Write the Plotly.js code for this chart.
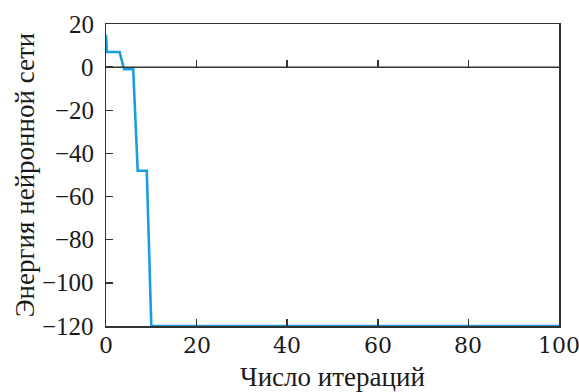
<!DOCTYPE html>
<html><head><meta charset="utf-8">
<script src="https://cdn.plot.ly/plotly-3.0.1.min.js"></script>
<style>body{margin:0;background:#fff}#c{width:579px;height:392px}</style>
</head><body><div id="c"></div>
<script>
const iterations = [0, 0.2, 3, 4, 6, 7, 9, 10, 100];
const energy = [15, 7, 7, -1, -1, -48, -48, -120, -120];
const xTicks = [0, 20, 40, 60, 80, 100];
const yTicks = [20, 0, -20, -40, -60, -80, -100, -120];
const xTitle = 'Число итераций';
const yTitle = 'Энергия нейронной сети';

const data = [{
  x: iterations, y: energy, type: 'scatter', mode: 'lines',
  line: {color: '#1a9ee0', width: 2.6}, xaxis: 'x', yaxis: 'y', showlegend: false
}, {
  x: [0, 100], y: [0, 0], type: 'scatter', mode: 'lines',
  line: {color: '#333', width: 1.5}, xaxis: 'x2', yaxis: 'y', showlegend: false, hoverinfo: 'skip'
}];

const annotations = [];
xTicks.forEach(v => annotations.push({
  x: v, xref: 'x', y: 0, yref: 'paper', xanchor: 'center', yanchor: 'top',
  yshift: -5, text: String(v), showarrow: false, font: {family: 'DejaVu Serif', size: 22, color: '#1a1a1a'}
}));
yTicks.forEach(v => annotations.push({
  x: 0, xref: 'paper', y: v, yref: 'y', xanchor: 'right', yanchor: 'middle',
  xshift: -10, text: String(v).replace('-', '\u2212'), showarrow: false, font: {family: 'serif', size: 25, color: '#1a1a1a'}
}));

const layout = {
  width: 579, height: 392,
  margin: {l: 106, r: 20, t: 24, b: 66},
  paper_bgcolor: '#fff', plot_bgcolor: '#fff',
  font: {family: 'Liberation Serif', size: 22.5, color: '#1a1a1a'},
  annotations: annotations,
  xaxis: {
    range: [0, 100], tickvals: xTicks, showticklabels: false, ticks: 'inside', ticklen: 7, tickwidth: 1.5, tickcolor: '#333',
    showline: true, linecolor: '#333', linewidth: 1.5, mirror: true, showgrid: false, zeroline: false,
    title: {text: xTitle, standoff: 47}
  },
  xaxis2: {
    range: [0, 100], tickvals: xTicks, ticks: 'inside', ticklen: 7, tickwidth: 1.5, tickcolor: '#333',
    showticklabels: false, overlaying: 'x', anchor: 'free', position: 120/140,
    showline: false, showgrid: false, zeroline: false
  },
  yaxis: {
    range: [-120, 20], tickvals: yTicks, showticklabels: false, ticks: 'inside', ticklen: 7, tickwidth: 1.5, tickcolor: '#333',
    showline: true, linecolor: '#333', linewidth: 1.5, mirror: true, showgrid: false, zeroline: false,
    title: {text: yTitle, standoff: 62}
  }
};
Plotly.newPlot('c', data, layout, {displayModeBar: false, staticPlot: true});
</script></body></html>
